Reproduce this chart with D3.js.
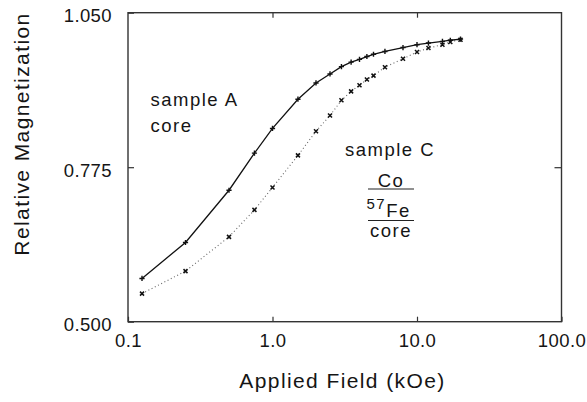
<!DOCTYPE html>
<meta charset="utf-8">
<style>
  body { margin: 0; background: #fff; }
  svg { display: block; font-family: "Liberation Sans", Arial, Helvetica, sans-serif; }
  .tick text { font-size: 18.5px; fill: #151515; letter-spacing: 0.4px; }
  .tick line { stroke: #333; stroke-width: 1.2; }
  .title { font-size: 21px; fill: #151515; letter-spacing: 1.4px; }
  .note { font-size: 18.5px; fill: #151515; letter-spacing: 1.5px; }
</style>
<body>
<script src="https://cdn.jsdelivr.net/npm/d3@7"></script>
<script>
  'use strict';

  // applied field (kOe)
  const field = [0.125, 0.25, 0.5, 0.75, 1, 1.5, 2, 2.5, 3, 3.5, 4, 4.5, 5, 6, 8, 10, 12, 15, 17, 20];
  // relative magnetization, sample A core (solid, +)
  const sampleA = [0.577, 0.641, 0.734, 0.800, 0.844, 0.896, 0.925, 0.941, 0.954, 0.962,
                   0.967, 0.972, 0.976, 0.981, 0.988, 0.993, 0.996, 0.999, 1.001, 1.003];
  // relative magnetization, sample C Co/57Fe/core (dotted, x)
  const sampleC = [0.550, 0.590, 0.651, 0.699, 0.739, 0.796, 0.839, 0.867, 0.894, 0.910,
                   0.921, 0.931, 0.938, 0.953, 0.968, 0.980, 0.987, 0.993, 0.998, 1.002];
  const xTicks = [0.1, 1, 10, 100];
  const xTickLabels = ["0.1", "1.0", "10.0", "100.0"];
  const yTicks = [0.5, 0.775, 1.05];

  const width = 587, height = 402;
  const plot = {left: 128, right: 561.5, top: 12.7, bottom: 321.7};

  const x = d3.scaleLog().domain([0.1, 100]).range([plot.left, plot.right]);
  const y = d3.scaleLinear().domain([0.5, 1.05]).range([plot.bottom, plot.top]);

  const svg = d3.select("body").append("svg")
      .attr("width", width)
      .attr("height", height);

  // axes (ticks point inward, frame drawn separately)
  svg.append("g")
      .attr("transform", `translate(0,${plot.bottom})`)
      .call(d3.axisBottom(x).tickValues(xTicks).tickSize(-5).tickPadding(12)
        .tickFormat((d, i) => xTickLabels[i]))
      .call(g => g.select(".domain").remove());

  svg.append("g")
      .attr("transform", `translate(0,${plot.top})`)
      .call(d3.axisTop(x).tickValues([1, 10]).tickSize(-5).tickFormat(""))
      .call(g => g.select(".domain").remove());

  svg.append("g")
      .attr("transform", `translate(${plot.left},0)`)
      .call(d3.axisLeft(y).tickValues(yTicks).tickSize(-6).tickPadding(16)
        .tickFormat(d3.format(".3f")))
      .call(g => g.select(".domain").remove())
      .call(g => g.selectAll("text").attr("dy", "0.5em"));

  svg.append("g")
      .attr("transform", `translate(${plot.right},0)`)
      .call(d3.axisRight(y).tickValues([0.775]).tickSize(-7).tickFormat(""))
      .call(g => g.select(".domain").remove());

  svg.append("rect")
      .attr("x", plot.left).attr("y", plot.top)
      .attr("width", plot.right - plot.left).attr("height", plot.bottom - plot.top)
      .attr("fill", "none")
      .attr("stroke", "#333")
      .attr("stroke-width", 1.4);

  const line = d3.line()
      .x(d => x(d[0]))
      .y(d => y(d[1]));

  const ptsA = field.map((f, i) => [f, sampleA[i]]);
  const ptsC = field.map((f, i) => [f, sampleC[i]]);

  svg.append("path")
      .datum(ptsC)
      .attr("d", line)
      .attr("fill", "none")
      .attr("stroke", "#666")
      .attr("stroke-width", 1.1)
      .attr("stroke-dasharray", "1,2.6");

  svg.append("path")
      .datum(ptsA)
      .attr("d", line)
      .attr("fill", "none")
      .attr("stroke", "#111")
      .attr("stroke-width", 1.3);

  // + markers
  svg.append("g").selectAll("path")
      .data(ptsA)
      .join("path")
      .attr("d", d => {
        const cx = x(d[0]), cy = y(d[1]), r = 2.6;
        return `M${cx - r},${cy}H${cx + r}M${cx},${cy - r}V${cy + r}`;
      })
      .attr("stroke", "#111")
      .attr("stroke-width", 1.4);

  // x markers
  svg.append("g").selectAll("path")
      .data(ptsC)
      .join("path")
      .attr("d", d => {
        const cx = x(d[0]), cy = y(d[1]), r = 2;
        return `M${cx - r},${cy - r}L${cx + r},${cy + r}M${cx - r},${cy + r}L${cx + r},${cy - r}`;
      })
      .attr("stroke", "#111")
      .attr("stroke-width", 1.5);

  // axis titles
  svg.append("text")
      .attr("class", "title")
      .attr("x", 342.5).attr("y", 388)
      .attr("text-anchor", "middle")
      .text("Applied Field (kOe)");

  svg.append("text")
      .attr("class", "title")
      .attr("transform", "translate(29,134) rotate(-90)")
      .attr("text-anchor", "middle")
      .text("Relative Magnetization");

  // annotations
  svg.append("text").attr("class", "note").attr("x", 150.5).attr("y", 106).text("sample A");
  svg.append("text").attr("class", "note").attr("x", 150.5).attr("y", 132.3).text("core");
  svg.append("text").attr("class", "note").attr("x", 345).attr("y", 155.7).text("sample C");

  svg.append("text").attr("class", "note").attr("x", 391).attr("y", 186.5)
      .attr("text-anchor", "middle").text("Co");
  const fe = svg.append("text").attr("class", "note").attr("x", 366.5).attr("y", 217.3);
  fe.append("tspan").attr("dy", -8).style("font-size", "15px").text("57");
  fe.append("tspan").attr("dy", 8).text("Fe");
  svg.append("text").attr("class", "note").attr("x", 391).attr("y", 237)
      .attr("text-anchor", "middle").text("core");

  svg.selectAll(".rule")
      .data([189, 220.5])
      .join("line")
      .attr("x1", 368).attr("x2", 414)
      .attr("y1", d => d).attr("y2", d => d)
      .attr("stroke", "#222")
      .attr("stroke-width", 1.2);
</script>
</body>
